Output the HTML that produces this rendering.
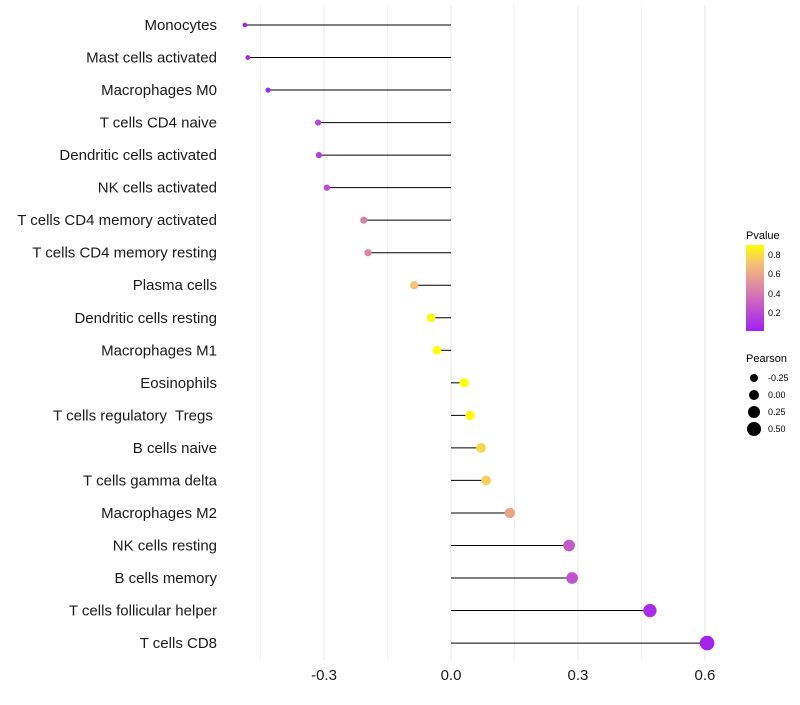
<!DOCTYPE html>
<html><head><meta charset="utf-8"><style>
body{margin:0;background:#fff;font-family:"Liberation Sans",sans-serif;}
svg text{font-family:"Liberation Sans",sans-serif;white-space:pre;}
</style></head><body>
<svg id="c" width="800" height="700" xmlns="http://www.w3.org/2000/svg">
<defs><linearGradient id="pg" x1="0" y1="1" x2="0" y2="0">
<stop offset="0" stop-color="#a020f0"/><stop offset="0.3" stop-color="#c65bc8"/><stop offset="0.55" stop-color="#e0909e"/><stop offset="0.8" stop-color="#f5c470"/><stop offset="1" stop-color="#ffff00"/></linearGradient></defs>
<g id="grid"></g><g id="marks"></g><g id="axes"></g>
<g>
<text x="746" y="239" font-size="11">Pvalue</text>
<rect x="746" y="245" width="18" height="86" fill="url(#pg)"/>
<text x="768" y="258" font-size="9">0.8</text><text x="768" y="277" font-size="9">0.6</text>
<text x="768" y="297" font-size="9">0.4</text><text x="768" y="316" font-size="9">0.2</text>
</g>
<g>
<text x="746" y="362" font-size="11">Pearson</text>
<circle cx="754" cy="378" r="4"/><text x="768" y="381" font-size="9">-0.25</text>
<circle cx="754" cy="395" r="5"/><text x="768" y="398" font-size="9">0.00</text>
<circle cx="754" cy="412" r="6"/><text x="768" y="415" font-size="9">0.25</text>
<circle cx="754" cy="429" r="7"/><text x="768" y="432" font-size="9">0.50</text>
</g>
</svg>
<script>
const categories=["Monocytes","Mast cells activated","Macrophages M0","T cells CD4 naive","Dendritic cells activated","NK cells activated","T cells CD4 memory activated","T cells CD4 memory resting","Plasma cells","Dendritic cells resting","Macrophages M1","Eosinophils","T cells regulatory  Tregs ","B cells naive","T cells gamma delta","Macrophages M2","NK cells resting","B cells memory","T cells follicular helper","T cells CD8"];
const pearson=[-0.487,-0.48,-0.432,-0.314,-0.312,-0.293,-0.206,-0.196,-0.087,-0.047,-0.033,0.031,0.045,0.071,0.083,0.139,0.279,0.286,0.47,0.605];
const pvalue=[0.01,0.01,0.03,0.18,0.14,0.2,0.42,0.44,0.7,0.86,0.88,0.9,0.86,0.76,0.74,0.58,0.25,0.22,0.06,0.02];
const ticks=[-0.3,0,0.3,0.6];
const ns="http://www.w3.org/2000/svg";
const xs=v=>451+v*423.3, ys=i=>25+i*32.53;
const rs=v=>2.3+(v+0.49)/1.1*5;
function lerp(a,b,t){return a.map((x,i)=>Math.round(x+(b[i]-x)*t));}
const stops=[[0,[160,32,240]],[0.3,[198,91,200]],[0.55,[224,144,158]],[0.8,[245,196,112]],[1,[255,255,0]]];
function col(p){let t=Math.min(1,Math.max(0,p/0.88));for(let k=1;k<stops.length;k++){if(t<=stops[k][0]){const a=stops[k-1],b=stops[k];const c=lerp(a[1],b[1],(t-a[0])/(b[0]-a[0]));return `rgb(${c})`;}}return "rgb(255,255,0)";}
function mk(tag,at,parent){const e=document.createElementNS(ns,tag);for(const k in at)e.setAttribute(k,at[k]);document.getElementById(parent).appendChild(e);return e;}
[-0.45,-0.15,0.15,0.45].forEach(v=>{const l=mk("line",{x1:xs(v),x2:xs(v),y1:5,y2:660,stroke:"#f2f2f2","stroke-width":1},"grid");

});
ticks.forEach(v=>{const l=mk("line",{x1:xs(v),x2:xs(v),y1:5,y2:660,stroke:"#ebebeb","stroke-width":1.2},"grid");


const t=mk("text",{x:xs(v),y:680,"font-size":15,"text-anchor":"middle",fill:"#1a1a1a"},"axes");t.textContent=v===0?"0.0":v.toFixed(1);

});
categories.forEach((c,i)=>{const y=ys(i);
const l=mk("line",{x1:xs(0),x2:xs(pearson[i]),y1:y,y2:y,stroke:"#000","stroke-width":1},"marks");


const p=mk("circle",{cx:xs(pearson[i]),cy:y,r:rs(pearson[i]),fill:col(pvalue[i])},"marks");


const t=mk("text",{x:217,y:y+5,"font-size":15,"text-anchor":"end",fill:"#1a1a1a"},"axes");t.textContent=c;

});
</script>
</body></html>
